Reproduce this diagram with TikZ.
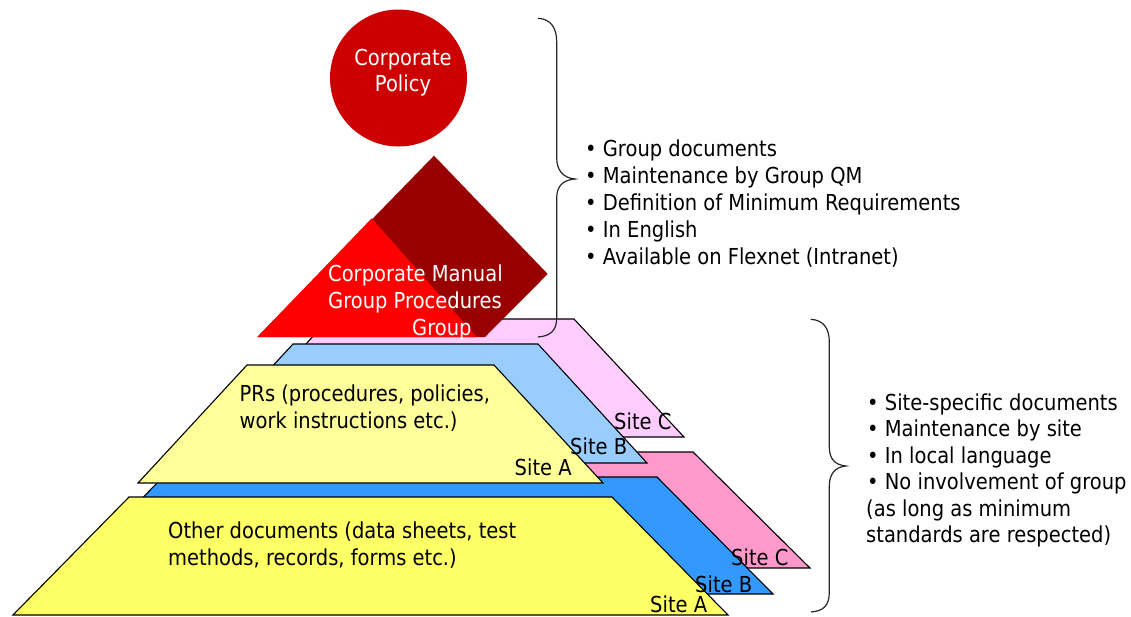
\documentclass[tikz,border=0pt]{standalone}
\usepackage{fontspec}
\setmainfont{DejaVu Sans}[FakeStretch=0.886]
\newcommand\myfs{\fontsize{22}{27}\selectfont}
\definecolor{cpol}{HTML}{CC0000}
\definecolor{cdark}{HTML}{990000}
\definecolor{cred}{HTML}{FF0000}
\definecolor{upC}{HTML}{FFCCFF}
\definecolor{upB}{HTML}{99CCFF}
\definecolor{upA}{HTML}{FFFF99}
\definecolor{loC}{HTML}{FF99CC}
\definecolor{loB}{HTML}{3399FF}
\definecolor{loA}{HTML}{FFFF66}
\begin{document}
\begin{tikzpicture}[x=1pt,y=-1pt,
  layer/.style={draw=black, line width=1.1pt, line join=miter},
  lbl/.style={anchor=base west, inner sep=0pt, font=\myfs, text=black},
  wlbl/.style={lbl, text=white},
  brace/.style={draw=black!85, line width=1.2pt}]
\useasboundingbox (0,0) rectangle (1131,616);
% lower level (other documents)
\path[layer, fill=loC] (199,452) -- (693,452) -- (810,568) -- (84,568) -- cycle;
\path[layer, fill=loB] (163,477) -- (657,477) -- (773,594) -- (48,594) -- cycle;
\path[layer, fill=loA] (129,497) -- (612,497) -- (728,615) -- (13,615) -- cycle;
% upper level (PRs)
\path[layer, fill=upC] (329,319) -- (574,319) -- (684,437) -- (220,437) -- cycle;
\path[layer, fill=upB] (293,344) -- (538,344) -- (647,463) -- (183,463) -- cycle;
\path[layer, fill=upA] (247,365) -- (494,365) -- (603,483) -- (138,483) -- cycle;
% group level
\fill[cdark] (434,155.7) -- (547.7,274) -- (485,337) -- (257.3,337) -- cycle;
\fill[cred] (371.7,218.3) -- (476.7,337) -- (257.3,337) -- cycle;
\node[circle, fill=cpol, minimum size=137pt, inner sep=0pt] (pol) at (398.5,78) {};
% texts in shapes
\node[wlbl, anchor=base] (pol1) at (403,65) {Corporate};
\node[wlbl, anchor=base] (pol2) at (403,91.7) {Policy};
\node[wlbl] (cm1) at (328,281.5) {Corporate Manual};
\node[wlbl] (cm2) at (328,308.5) {Group Procedures};
\node[wlbl] (cm3) at (412,335.5) {Group};
\node[lbl] (pr1) at (239.5,401.7) {PRs (procedures, policies,};
\node[lbl] (pr2) at (239.5,428.7) {work instructions etc.)};
\node[lbl] (od1) at (168,538) {Other documents (data sheets, test};
\node[lbl] (od2) at (168,565) {methods, records, forms etc.)};
\node[lbl] (uC) at (614,429) {Site C};
\node[lbl] (uB) at (570,454) {Site B};
\node[lbl] (uA) at (514.5,475) {Site A};
\node[lbl] (lC) at (731,565) {Site C};
\node[lbl] (lB) at (695,592) {Site B};
\node[lbl] (lA) at (650,612) {Site A};
% bullet block 1
\foreach \t [count=\i from 0] in {Group documents, Maintenance by Group QM, Definition of Minimum Requirements, In English, Available on Flexnet (Intranet)}
  \node[lbl] (ga\i) at (585,156.7+26.9*\i) {• \t};
% bullet block 2
\foreach \t [count=\i from 0] in {Site-specific documents, Maintenance by site, In local language, No involvement of group}
  \node[lbl] (sa\i) at (867,410.5+26.4*\i) {• \t};
\node[lbl] (sa4) at (866,516.1) {(as long as minimum};
\node[lbl] (sa5) at (866,542.5) {standards are respected)};
% braces
\draw[brace] (538,18.3) .. controls (551,19) and (556.7,28) .. (556.7,42)
  -- (556.7,158) .. controls (556.7,170) and (563,178) .. (575,179)
  .. controls (563,180) and (556.7,186) .. (556.7,198)
  -- (556.7,318) .. controls (556.7,330) and (551,336) .. (538,337);
\draw[brace] (810.7,319.3) .. controls (824,320) and (829.3,329) .. (829.3,342)
  -- (829.3,447) .. controls (829.3,459) and (835,465) .. (846,466)
  .. controls (835,467) and (829.3,474) .. (829.3,486)
  -- (829.3,592) .. controls (829.3,605) and (824,611) .. (811,612);
\end{tikzpicture}
\end{document}
